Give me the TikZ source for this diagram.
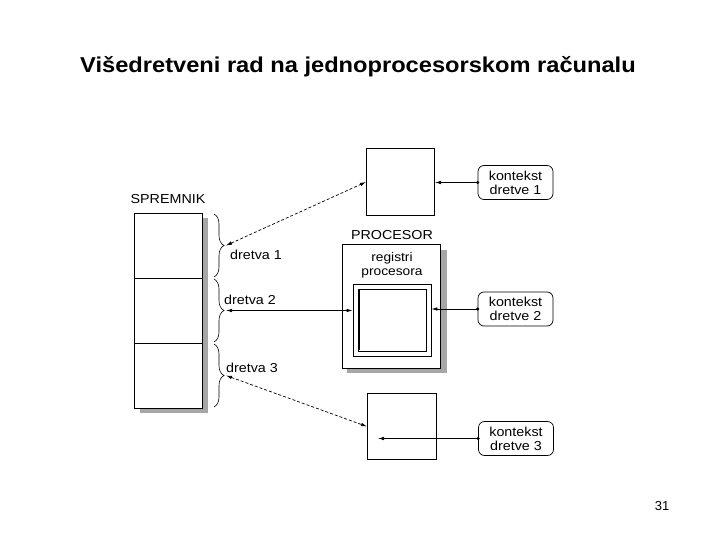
\documentclass[tikz,border=0pt]{standalone}
\usepackage{fontspec}
\setmainfont{Liberation Sans}
\newfontfamily\widefont[FakeStretch=1.1]{Liberation Sans}
\usetikzlibrary{arrows.meta,decorations.pathreplacing,calc}
\begin{document}
\begin{tikzpicture}[x=1pt,y=-1pt,
  lbl/.style={font=\widefont\fontsize{13}{15}\selectfont, inner sep=0pt},
  cell/.style={draw, line width=1pt, minimum width=68pt, minimum height=65pt, inner sep=0pt, anchor=north west},
  tbox/.style={draw, line width=1pt, minimum width=68pt, minimum height=67pt, inner sep=0pt, anchor=north west},
  kbox/.style={draw, line width=0.7pt, rounded corners=6pt, minimum width=75pt, minimum height=34pt, inner sep=0pt, align=center, font=\widefont\fontsize{13}{14}\selectfont},
  shade/.style={fill=black!35},
  brc/.style={decorate, decoration={brace, amplitude=10pt}, line width=0.6pt},
  dash2/.style={densely dashed, line width=0.7pt, {Latex[length=6pt,width=3.5pt]}-{Latex[length=6pt,width=3.5pt]}},
  link/.style={line width=0.7pt, -{Latex[length=6pt,width=3.5pt]}},
  dot/.style={circle, fill, inner sep=0pt, minimum size=3.5pt}
]
\useasboundingbox (0,0) rectangle (720,540);

% title and page number
\node[font=\widefont\bfseries\fontsize{21.5}{24}\selectfont] (title) at (358,67) {Višedretveni rad na jednoprocesorskom računalu};
\node[font=\fontsize{13}{15}\selectfont] (pg) at (662,506) {31};

% memory
\fill[shade] (202,218) rectangle (208,413);
\fill[shade] (140,408) rectangle (208,413);
\node[cell] (m1) at (134,213) {};
\node[cell] (m2) at (134,278) {};
\node[cell] (m3) at (134,343) {};
\node[lbl] (spr) at (168,199) {SPREMNIK};

% braces
\draw[brc] (214,214) -- (214,277);
\draw[brc] (214,279) -- (214,342);
\draw[brc] (214,344) -- (214,407);
\coordinate (b1) at (226,245.5);
\coordinate (b2) at (226,310.5);
\coordinate (b3) at (226,375.5);
\node[lbl] (d1) at (256,255) {dretva 1};
\node[lbl] (d2) at (250,300) {dretva 2};
\node[lbl] (d3) at (252,368) {dretva 3};

% thread context boxes
\node[tbox] (t1) at (366,148) {};
\node[tbox, minimum height=66pt, minimum width=69pt] (t3) at (367,393) {};

% processor
\fill[shade] (440,250) rectangle (447,373);
\fill[shade] (347,368) rectangle (447,373);
\node[draw, line width=1.1pt, minimum width=98pt, minimum height=124pt, inner sep=0pt, anchor=north west, fill=white] (P) at (342,244) {};
\node[lbl] (proc) at (392,235) {PROCESOR};
\node[lbl, align=center, font=\widefont\fontsize{12.5}{14}\selectfont] (regtxt) at (392,265) {registri\\procesora};
\node[draw, line width=0.8pt, minimum width=78pt, minimum height=72pt, inner sep=0pt] (reg) at (392,320) {};
\draw[line width=0.8pt] (358,289) rectangle (426,351);
\draw[line width=1.6pt] (359,290) -- (359,350);

% kontekst boxes
\node[kbox] (k1) at (515.5,182.5) {kontekst\\dretve 1};
\node[kbox] (k2) at (515.5,309) {kontekst\\dretve 2};
\node[kbox] (k3) at (516,438.5) {kontekst\\dretve 3};

% connectors
\draw[dash2] (b1) -- (t1.west);
\draw[dash2] (b3) -- (t3.west);
\draw[link, {Latex[length=6pt,width=3.5pt]}-{Latex[length=6pt,width=3.5pt]}] (b2) -- (b2 -| reg.west);
\draw[link] (k1.west) -- (k1.west -| t1.east);
\draw[link] (k2.west) -- (k2.west -| reg.east);
\coordinate (a3) at (378,438.5);
\draw[link] (k3.west) -- (a3);
\node[dot] at (k1.west) {};
\node[dot] at (k2.west) {};
\node[dot] at (k3.west) {};
\end{tikzpicture}
\end{document}
